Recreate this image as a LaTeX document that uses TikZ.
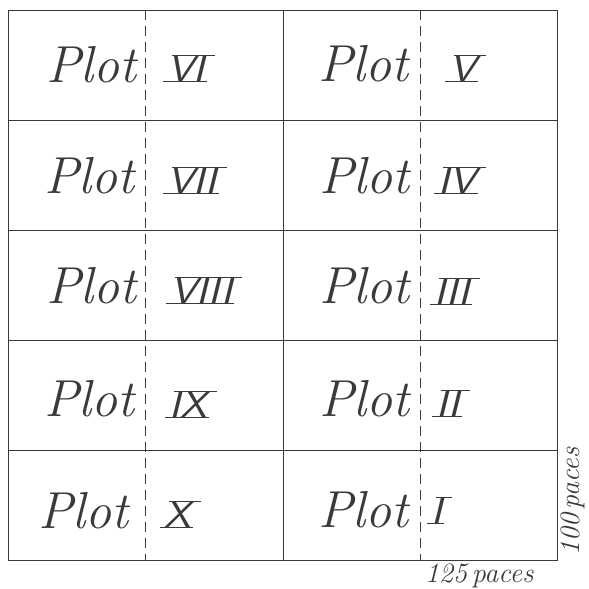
\documentclass[tikz,border=0pt]{standalone}
\usepackage{fontspec}
\usetikzlibrary{calc}
\definecolor{ink}{HTML}{3A3A3A}
\tikzset{
  grid/.style={draw=ink, line width=0.9pt},
  split/.style={draw=ink, line width=0.7pt, dash pattern=on 10pt off 6pt},
  plotlabel/.style={anchor=base east, inner sep=0pt, text=ink, font=\fontsize{52}{52}\selectfont\itshape},
  numeral/.style={anchor=base west, inner sep=0pt, text=ink, font=\fontsize{37}{37}\selectfont\sffamily\itshape},
  bar/.style={draw=ink, line width=0.8pt},
  dimlabel/.style={inner sep=0pt, text=ink, font=\fontsize{28}{28}\selectfont\itshape}
}
\begin{document}
\begin{tikzpicture}[x=1pt,y=-1pt]
\useasboundingbox (0,0) rectangle (589,589);
% frame and cells
\draw[grid] (8,10) rectangle (557,560);
\draw[grid] (283,10) -- (283,560);
\foreach \yy in {120,230,340,450} \draw[grid] (8,\yy) -- (557,\yy);
\draw[split] (145,10) -- (145,560);
\draw[split] (420,10) -- (420,560);
% Plot labels
\node[plotlabel] (p6) at (137,82) {Plot};
\node[plotlabel] (p5) at (409,81) {Plot};
\node[plotlabel] (p7) at (135,193) {Plot};
\node[plotlabel] (p4) at (410,193) {Plot};
\node[plotlabel] (p8) at (137,303) {Plot};
\node[plotlabel] (p3) at (410,303) {Plot};
\node[plotlabel] (p9) at (135,416) {Plot};
\node[plotlabel] (p2) at (410,416) {Plot};
\node[plotlabel] (p10) at (129,528) {Plot};
\node[plotlabel] (p1) at (409,527) {Plot};
% numerals with bars
\foreach \nm/\txt/\x/\y in {n6/VI/167/81, n5/V/449/81, n7/VII/167/193, n4/IV/438/193, n8/VIII/170/303, n3/III/434/304, n9/IX/169/417, n2/II/436/416, n10/X/164/527, n1/I/431/523} {
  \node[numeral] (\nm) at (\x,\y) {\scalebox{1.15}[1]{\txt}};
  \draw[bar] ($(\nm.base west)+(-4,0)$) -- ($(\nm.base east)+(2,0)$);
  \draw[bar] ($(\nm.north west)+(5,0)$) -- ($(\nm.north east)+(10,0)$);
}
% dimensions
\node[dimlabel, anchor=base west] (w) at (425,582) {125\,paces};
\node[dimlabel, anchor=base west, rotate=90] (h) at (579,556) {100\,paces};
\end{tikzpicture}
\end{document}
